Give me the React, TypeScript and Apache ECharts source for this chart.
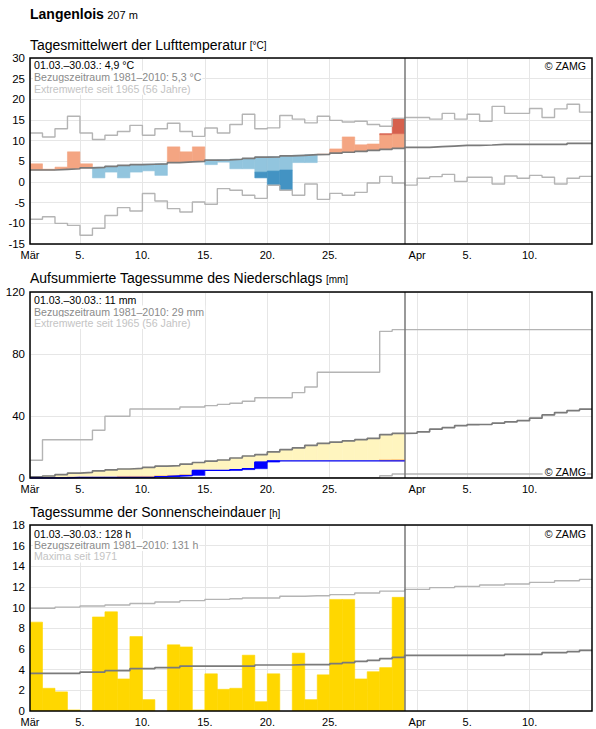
import { useEffect, useRef } from 'react';
import * as echarts from 'echarts';

const FONT = '"Liberation Sans", Arial, Helvetica, sans-serif';

// ---------- x axis: 46 day boundaries, 1 March .. 15 April (45 days) ----------
const DAY_COUNT = 45;
const OBSERVED_DAYS = 30; // 1.–30. März
const tickDays = [0, 4, 9, 14, 19, 24, 31, 35, 40];
const tickLabels = ['Mär', '5.', '10.', '15.', '20.', '25.', 'Apr', '5.', '10.'];

// ---------- Lufttemperatur (°C), Tagesmittel ----------
const tempActual = [
  4.4, 3.1, 3.6, 7.3, 4.4, 1.0, 2.4, 1.0, 2.4, 2.7,
  1.6, 8.5, 7.3, 8.5, 4.2, 4.8, 3.2, 3.2, 1.0, -0.7,
  -1.9, 4.7, 4.7, 6.7, 8.0, 10.9, 9.0, 9.2, 11.7, 15.4,
];
const tempMean = [
  2.9, 2.9, 3.05, 3.2, 3.4, 3.55, 3.8, 4.0, 4.2, 4.3,
  4.4, 4.7, 4.85, 5.0, 5.3, 5.35, 5.5, 5.7, 6.0, 6.1,
  6.3, 6.45, 6.6, 6.7, 7.0, 7.2, 7.4, 7.65, 7.9, 8.15,
  8.4, 8.4, 8.55, 8.7, 8.85, 8.85, 8.95, 9.1, 9.1, 9.1,
  9.1, 9.1, 9.1, 9.35, 9.35,
];
const tempMax = [
  11.85, 10.9, 12.9, 15.9, 11.85, 10.3, 11.3, 12.2, 13.7, 11.3,
  12.9, 14.2, 12.2, 11.05, 13.05, 11.85, 13.9, 16.4, 12.9, 13.1,
  16.1, 15.2, 14.3, 15.9, 14.9, 14.5, 14.7, 13.9, 13.5, 15.4,
  15.6, 15.6, 15.2, 16.6, 15.2, 16.4, 14.7, 18.3, 16.6, 16.6,
  17.8, 15.6, 17.7, 18.8, 16.9,
];
const tempMin = [
  -9.0, -8.4, -10.0, -10.5, -12.9, -11.2, -8.1, -6.2, -7.0, -2.8,
  -4.6, -6.45, -7.25, -4.85, -5.4, -1.6, -2.0, -3.2, -3.95, -0.8,
  -2.0, -3.2, -0.5, -4.2, -2.75, -3.2, -2.5, -0.25, 1.35, -0.25,
  -0.75, 0.9, 1.3, 1.85, 0.15, 1.15, 1.15, -0.5, 1.45, 0.9,
  1.6, 1.15, -0.5, 0.9, 1.35,
];
// limits beyond which a deviation counts as strong (darker colour)
const tempUpperBand: (number | null)[] = [
  null, null, null, null, null, null, null, null, null, null,
  null, null, null, null, null, null, null, null, null, null,
  null, null, null, null, null, null, null, null, 11.45, 11.7,
];
const tempLowerBand: (number | null)[] = [
  null, null, null, null, null, null, null, null, null, null,
  null, null, null, null, null, null, null, null, 2.4, 2.65,
  2.9, null, null, null, null, null, null, null, null, null,
];

// ---------- Niederschlag (mm) ----------
const precipDaily = [
  0, 0, 0, 0.4, 0, 0, 0, 0, 0, 0,
  0.5, 0.4, 0.4, 3.2, 0, 0, 0.5, 0.6, 4.3, 0.7,
  0, 0, 0, 0, 0, 0, 0, 0, 0, 0,
];
const precipMeanCum = [
  0.8, 1.3, 2.2, 3.2, 3.6, 4.6, 5.2, 5.8, 6.2, 6.8,
  7.6, 8.0, 8.9, 10.0, 10.9, 11.6, 12.9, 14.2, 15.1, 16.8,
  18.3, 19.4, 21.1, 22.4, 23.2, 23.9, 24.7, 25.6, 28.0, 28.8,
  28.9, 29.8, 31.5, 32.5, 33.8, 34.5, 34.6, 35.4, 36.2, 37.0,
  38.6, 40.7, 42.2, 43.5, 44.4,
];
const precipMaxCum = [
  11.5, 24.7, 24.7, 24.7, 24.7, 30.8, 39.8, 39.8, 44.5, 44.5,
  44.5, 44.5, 45.8, 45.8, 46.7, 47.5, 48.2, 49.5, 51.8, 51.8,
  51.8, 55.1, 58.7, 68.2, 68.2, 68.2, 68.2, 68.2, 94.6, 95.7,
  95.7, 95.7, 95.7, 95.7, 95.7, 95.7, 95.7, 95.7, 95.7, 95.7,
  95.7, 95.7, 95.7, 95.7, 95.7,
];
const precipMinCum = [
  0, 0, 0, 0, 0, 0, 0, 0, 0, 0,
  0, 0, 0, 0, 0, 0, 0.2, 0.2, 0.2, 0.2,
  0.2, 0.2, 0.2, 0.2, 0.2, 0.2, 0.2, 0.2, 1.5, 2.6,
  2.6, 2.6, 2.6, 2.6, 2.6, 2.6, 2.6, 2.6, 2.6, 2.6,
  2.6, 2.6, 2.6, 2.6, 2.6,
];
// dry limit of the cumulative sum (below it the deficit is drawn darker)
const precipLowerBand: (number | null)[] = [
  0.5, 0.5, 0.6, 0.9, 0.9, 0.9, 0.9, 1.5, 1.5, 1.5,
  1.9, 2.1, 2.6, 3.2, null, null, null, null, null, null,
  null, null, null, null, null, null, null, null, 12.2, 12.3,
];

// ---------- Sonnenscheindauer (h) ----------
const sunDaily = [
  8.6, 2.2, 1.85, 0.1, 0, 9.1, 9.6, 3.1, 7.2, 1.1,
  0, 6.4, 6.2, 0.1, 3.6, 2.1, 2.2, 5.4, 0.9, 3.6,
  0, 5.6, 1.1, 3.5, 10.8, 10.8, 3.1, 3.8, 4.2, 11.0,
];
const sunMean = [
  3.65, 3.65, 3.65, 3.65, 3.77, 3.77, 3.9, 3.9, 4.1, 4.1,
  4.2, 4.2, 4.35, 4.35, 4.35, 4.35, 4.35, 4.35, 4.45, 4.45,
  4.45, 4.48, 4.48, 4.48, 4.58, 4.68, 4.8, 4.9, 5.06, 5.19,
  5.39, 5.39, 5.39, 5.39, 5.39, 5.39, 5.39, 5.39, 5.48, 5.48,
  5.48, 5.65, 5.65, 5.74, 5.87,
];
const sunMax = [
  9.95, 9.95, 10.05, 10.05, 10.16, 10.16, 10.26, 10.26, 10.4, 10.4,
  10.55, 10.55, 10.68, 10.68, 10.8, 10.8, 10.87, 10.94, 10.94, 10.94,
  11.1, 11.1, 11.16, 11.16, 11.26, 11.26, 11.42, 11.42, 11.6, 11.6,
  11.77, 11.77, 11.94, 11.94, 12.06, 12.06, 12.19, 12.19, 12.29, 12.29,
  12.45, 12.45, 12.61, 12.61, 12.74,
];

// ---------- texts ----------
const stationName = 'Langenlois';
const stationHeight = '207 m';
const panelTitles = [
  ['Tagesmittelwert der Lufttemperatur', '[°C]'],
  ['Aufsummierte Tagessumme des Niederschlags', '[mm]'],
  ['Tagessumme der Sonnenscheindauer', '[h]'],
];
const panelInfo = [
  ['01.03.–30.03.: 4,9 °C', 'Bezugszeitraum 1981–2010: 5,3 °C', 'Extremwerte seit 1965 (56 Jahre)'],
  ['01.03.–30.03.: 11 mm', 'Bezugszeitraum 1981–2010: 29 mm', 'Extremwerte seit 1965 (56 Jahre)'],
  ['01.03.–30.03.: 128 h', 'Bezugszeitraum 1981–2010: 131 h', 'Maxima seit 1971'],
];
const yRanges = [
  { min: -15, max: 30, interval: 5 },
  { min: 0, max: 120, interval: 40 },
  { min: 0, max: 18, interval: 2 },
];

// ---------- layout & colours ----------
const PLOT_LEFT = 30;
const PLOT_RIGHT = 592;
const PANEL_TOPS = [58, 292, 525];
const PANEL_HEIGHT = 186;
const TITLE_Y = [44.5, 278, 512];
const INFO_Y = [[65, 76.8, 88.8], [300.3, 311.6, 323], [533.6, 545, 556.4]];
const COPY_Y = [66, 472, 534];

const C = {
  warm: '#f4a582', warmStrong: '#d6604d',
  cold: '#92c5de', coldStrong: '#4393c3',
  dry: '#fff5bf', dryStrong: '#fdbf6f', wet: '#0000ff',
  sun: '#ffd700',
  mean: '#7a7a7a', extreme: '#b4b4b4', grid: '#e6e6e6',
};

type RectItem = { day: number; lo: number; hi: number; color: string };

const dayCategories = Array.from({ length: DAY_COUNT + 1 }, (_, i) => {
  const k = tickDays.indexOf(i);
  return k >= 0 ? tickLabels[k] : '';
});

const stepped = (v: number[]) => [...v, v[v.length - 1]];

const rectSeries = (k: number, items: RectItem[], z: number) => ({
  type: 'custom',
  xAxisIndex: k,
  yAxisIndex: k,
  z,
  silent: true,
  clip: true,
  data: items.map((r) => ({ value: [r.day, r.lo, r.hi], itemStyle: { color: r.color } })),
  encode: { x: 0, y: [1, 2] },
  renderItem: (_params: any, api: any) => {
    const day = api.value(0);
    const a = api.coord([day, api.value(1)]);
    const b = api.coord([day + 1, api.value(2)]);
    const color = api.visual('color');
    return {
      type: 'rect',
      shape: { x: a[0], y: Math.min(a[1], b[1]), width: b[0] - a[0], height: Math.abs(b[1] - a[1]) },
      // a hairline of the same colour closes the seams between neighbouring days
      style: { fill: color, stroke: color, lineWidth: 0.6 },
    };
  },
});

const stepSeries = (k: number, values: number[], color: string, width: number, z: number, extra: any = {}) => ({
  type: 'line',
  xAxisIndex: k,
  yAxisIndex: k,
  data: stepped(values),
  step: 'end',
  symbol: 'none',
  silent: true,
  z,
  lineStyle: { color, width },
  ...extra,
});

const todayLine = {
  markLine: {
    silent: true,
    symbol: 'none',
    label: { show: false },
    lineStyle: { color: '#777', width: 1.5, type: 'solid' },
    data: [{ xAxis: OBSERVED_DAYS }],
  },
};

function buildOption() {
  // temperature deviations from the climate mean
  const tempRects: RectItem[] = [];
  tempActual.forEach((a, day) => {
    const m = tempMean[day];
    if (a >= m) {
      const band = tempUpperBand[day];
      if (band != null && a > band) {
        tempRects.push({ day, lo: m, hi: band, color: C.warm });
        tempRects.push({ day, lo: band, hi: a, color: C.warmStrong });
      } else tempRects.push({ day, lo: m, hi: a, color: C.warm });
    } else {
      const band = tempLowerBand[day];
      if (band != null && a < band) {
        tempRects.push({ day, lo: band, hi: m, color: C.cold });
        tempRects.push({ day, lo: a, hi: band, color: C.coldStrong });
      } else tempRects.push({ day, lo: a, hi: m, color: C.cold });
    }
  });

  // cumulative precipitation
  const precipCum: number[] = [];
  precipDaily.reduce((s, d, i) => {
    const v = Math.round((s + d) * 10) / 10;
    precipCum[i] = v;
    return v;
  }, 0);
  const precipRects: RectItem[] = [];
  const precipBoxes: RectItem[] = [];
  precipCum.forEach((cur, day) => {
    const prev = day === 0 ? 0 : precipCum[day - 1];
    if (cur > prev) precipBoxes.push({ day, lo: prev, hi: cur, color: C.wet });
    const band = precipLowerBand[day];
    let base = cur;
    if (band != null && band > cur) {
      precipRects.push({ day, lo: cur, hi: band, color: C.dryStrong });
      base = band;
    }
    const m = precipMeanCum[day];
    if (m > base) precipRects.push({ day, lo: base, hi: m, color: C.dry });
  });

  const sunRects: RectItem[] = sunDaily
    .map((v, day) => ({ day, lo: 0, hi: v, color: C.sun }))
    .filter((r) => r.hi > 0);

  const grids = PANEL_TOPS.map((top) => ({
    left: PLOT_LEFT,
    width: PLOT_RIGHT - PLOT_LEFT,
    top,
    height: PANEL_HEIGHT,
  }));

  const xAxes = PANEL_TOPS.map((_, k) => ({
    type: 'category',
    gridIndex: k,
    data: dayCategories,
    boundaryGap: false,
    axisLine: { show: false },
    axisTick: { show: false },
    axisLabel: {
      interval: 0,
      fontSize: 11,
      fontFamily: FONT,
      color: '#000',
      margin: 5,
      hideOverlap: false,
    },
    splitLine: {
      show: true,
      interval: (idx: number) => tickDays.includes(idx),
      lineStyle: { color: C.grid, width: 1 },
    },
  }));

  const yAxes = yRanges.map((r, k) => ({
    type: 'value',
    gridIndex: k,
    min: r.min,
    max: r.max,
    interval: r.interval,
    axisLine: { show: false },
    axisTick: { show: false },
    axisLabel: { fontSize: 11.5, fontFamily: FONT, color: '#000', margin: 5 },
    splitLine: { show: true, lineStyle: { color: C.grid, width: 1 } },
  }));

  const series: any[] = [
    // Lufttemperatur
    rectSeries(0, tempRects, 2),
    stepSeries(0, tempMax, C.extreme, 1.4, 3),
    stepSeries(0, tempMin, C.extreme, 1.4, 3),
    stepSeries(0, tempMean, C.mean, 1.7, 4, todayLine),
    // Niederschlag
    rectSeries(1, precipRects, 2),
    rectSeries(1, precipBoxes, 3),
    stepSeries(1, precipMaxCum, C.extreme, 1.4, 3),
    stepSeries(1, precipMinCum, C.extreme, 1.4, 3),
    stepSeries(1, precipMeanCum, C.mean, 1.7, 4, todayLine),
    stepSeries(1, precipCum, C.wet, 1.3, 5),
    // Sonnenscheindauer
    rectSeries(2, sunRects, 2),
    stepSeries(2, sunMax, C.extreme, 1.4, 3),
    stepSeries(2, sunMean, C.mean, 1.7, 4, todayLine),
  ];

  const infoColors = ['#000', '#8a8a8a', '#c4c4c4'];
  const graphic: any[] = [
    {
      type: 'text',
      x: PLOT_LEFT,
      y: 13.5,
      z: 100,
      style: {
        text: `{a|${stationName}} {b|${stationHeight}}`,
        verticalAlign: 'middle',
        rich: {
          a: { font: `bold 14px ${FONT}`, fill: '#000' },
          b: { font: `11px ${FONT}`, fill: '#000', padding: [2, 0, 0, 0] },
        },
      },
    },
  ];
  PANEL_TOPS.forEach((top, k) => {
    graphic.push({
      type: 'text',
      x: PLOT_LEFT,
      y: TITLE_Y[k],
      z: 100,
      style: {
        text: `{a|${panelTitles[k][0]}} {b|${panelTitles[k][1]}}`,
        verticalAlign: 'middle',
        rich: {
          a: { font: `14px ${FONT}`, fill: '#000' },
          b: { font: `10px ${FONT}`, fill: '#000', padding: [2, 0, 0, 0] },
        },
      },
    });
    panelInfo[k].forEach((line, j) => {
      graphic.push({
        type: 'text',
        x: PLOT_LEFT + 3,
        y: INFO_Y[k][j],
        z: 100,
        style: {
          text: line,
          font: `10.6px ${FONT}`,
          fill: infoColors[j],
          verticalAlign: 'middle',
          backgroundColor: '#fff',
          padding: [1, 1, 0, 1],
        },
      });
    });
    graphic.push({
      type: 'text',
      x: PLOT_RIGHT - 5,
      y: COPY_Y[k],
      z: 100,
      style: {
        text: '© ZAMG',
        font: `10.6px ${FONT}`,
        fill: '#000',
        align: 'right',
        verticalAlign: 'middle',
        backgroundColor: '#fff',
        padding: [1, 1, 1, 2],
      },
    });
    graphic.push({
      type: 'rect',
      z: 101,
      silent: true,
      shape: { x: PLOT_LEFT, y: top, width: PLOT_RIGHT - PLOT_LEFT, height: PANEL_HEIGHT },
      style: { fill: 'none', stroke: '#000', lineWidth: 1.5 },
    });
  });

  return {
    animation: false,
    backgroundColor: '#fff',
    textStyle: { fontFamily: FONT },
    grid: grids,
    xAxis: xAxes,
    yAxis: yAxes,
    series,
    graphic,
  };
}

export default function App() {
  const ref = useRef<HTMLDivElement>(null);
  useEffect(() => {
    if (!ref.current) return;
    const chart = echarts.init(ref.current, undefined, { renderer: 'svg' });
    chart.setOption(buildOption() as any);
    return () => chart.dispose();
  }, []);
  return (
    <div
      ref={ref}
      style={{ position: 'fixed', left: 0, top: 0, width: 596, height: 729, background: '#fff' }}
    />
  );
}
